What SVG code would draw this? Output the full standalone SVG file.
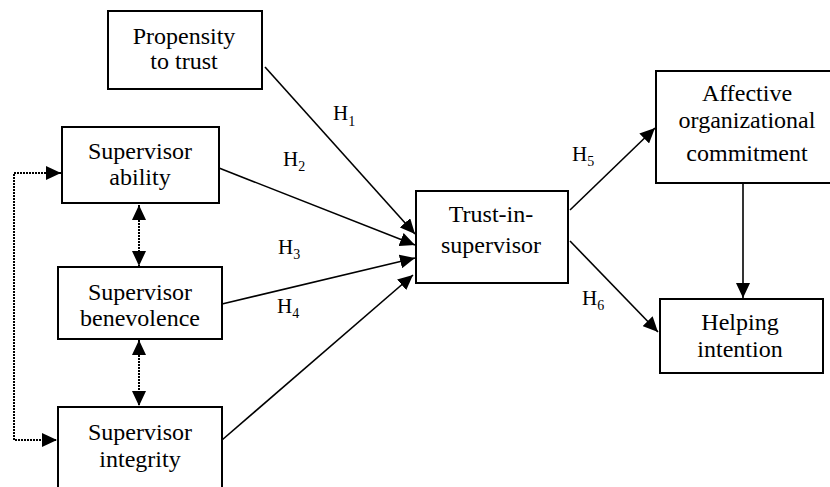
<svg xmlns="http://www.w3.org/2000/svg" width="830" height="487" viewBox="0 0 830 487">
<style>
.box{fill:#fff;stroke:#000;stroke-width:2}
text{font-family:"Liberation Serif","Times New Roman","DejaVu Serif",serif;fill:#000}
.t{font-size:24px;text-anchor:middle}
.h{font-size:21px}
.sub{font-size:14px}
.ln{fill:none;stroke:#000;stroke-width:1.6}
.dot{fill:none;stroke:#000;stroke-width:2;stroke-dasharray:2,1}
</style>
<defs>
<marker id="ah" markerUnits="userSpaceOnUse" markerWidth="16" markerHeight="14" viewBox="0 0 16 14" refX="15" refY="7" orient="auto-start-reverse">
<path d="M0,0 L15,7 L0,14 z" fill="#000"/>
</marker>
</defs>
<g id="connectors">
<line class="ln" x1="265" y1="67" x2="415" y2="234" stroke-width="2" marker-end="url(#ah)"/>
<line class="ln" x1="219" y1="168" x2="415" y2="245" marker-end="url(#ah)"/>
<line class="ln" x1="222" y1="304" x2="415" y2="258" marker-end="url(#ah)"/>
<line class="ln" x1="222" y1="440" x2="413" y2="275" stroke-width="2" marker-end="url(#ah)"/>
<line class="ln" x1="570" y1="210" x2="655" y2="128" stroke-width="1" stroke="#333" marker-end="url(#ah)"/>
<line class="ln" x1="570" y1="241" x2="658" y2="332" marker-end="url(#ah)"/>
<line class="ln" x1="743" y1="183" x2="743" y2="298" stroke-width="2" marker-end="url(#ah)"/>
<line class="dot" x1="139" y1="205" x2="139" y2="266" marker-start="url(#ah)" marker-end="url(#ah)"/>
<line class="dot" x1="139" y1="340" x2="139" y2="406" marker-start="url(#ah)" marker-end="url(#ah)"/>
<path class="dot" d="M61,173 H14 V440 H57" marker-start="url(#ah)" marker-end="url(#ah)"/>
</g>
<g id="propensity">
<rect class="box" x="108" y="11" width="154" height="78"/>
<text class="t" x="184" y="44" font-family="Liberation Serif, serif">Propensity</text>
<text class="t" x="184" y="69">to trust</text>
</g>
<g id="ability">
<rect class="box" x="62" y="127" width="157" height="76"/>
<text class="t" x="140" y="159">Supervisor</text>
<text class="t" x="140" y="185">ability</text>
</g>
<g id="benevolence">
<rect class="box" x="58" y="267" width="164" height="72"/>
<text class="t" x="140" y="300">Supervisor</text>
<text class="t" x="140" y="326">benevolence</text>
</g>
<g id="integrity">
<rect class="box" x="58" y="407" width="164" height="84"/>
<text class="t" x="140" y="440">Supervisor</text>
<text class="t" x="140" y="467">integrity</text>
</g>
<g id="trust">
<rect class="box" x="416" y="191" width="152" height="92"/>
<text class="t" x="491" y="222">Trust-in-</text>
<text class="t" x="491" y="253">supervisor</text>
</g>
<g id="affective">
<rect class="box" x="656" y="71" width="180" height="112"/>
<text class="t" x="747" y="101">Affective</text>
<text class="t" x="747" y="128">organizational</text>
<text class="t" x="747" y="161">commitment</text>
</g>
<g id="helping">
<rect class="box" x="660" y="299" width="163" height="74"/>
<text class="t" x="740" y="330">Helping</text>
<text class="t" x="740" y="357">intention</text>
</g>
<g id="labels">
<text class="h" x="333" y="120">H<tspan class="sub" dy="6">1</tspan></text>
<text class="h" x="283" y="166">H<tspan class="sub" dy="5">2</tspan></text>
<text class="h" x="278" y="254">H<tspan class="sub" dy="5">3</tspan></text>
<text class="h" x="277" y="313">H<tspan class="sub" dy="5">4</tspan></text>
<text class="h" x="572" y="161">H<tspan class="sub" dy="5">5</tspan></text>
<text class="h" x="582" y="305">H<tspan class="sub" dy="5">6</tspan></text>
</g>
</svg>
